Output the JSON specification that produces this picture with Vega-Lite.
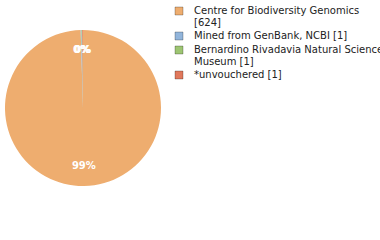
{
  "$schema": "https://vega.github.io/schema/vega-lite/v6.json",
  "autosize": {"type": "none"},
  "width": 166,
  "height": 166,
  "padding": {"left": 0, "top": 25, "right": 214, "bottom": 49},
  "background": "white",
  "config": {"view": {"stroke": null}, "font": "DejaVu Sans"},
  "data": {
    "values": [
      {"category": "Centre for Biodiversity Genomics [624]", "count": 624, "order": 1, "pct": "99%"},
      {"category": "Mined from GenBank, NCBI [1]", "count": 1, "order": 2, "pct": "0%"},
      {"category": "Bernardino Rivadavia Natural Sciences Museum [1]", "count": 1, "order": 3, "pct": "0%"},
      {"category": "*unvouchered [1]", "count": 1, "order": 4, "pct": "0%"}
    ]
  },
  "encoding": {
    "theta": {"field": "count", "type": "quantitative", "stack": true},
    "order": {"field": "order", "type": "quantitative"}
  },
  "layer": [
    {
      "mark": {"type": "arc", "outerRadius": 78},
      "encoding": {
        "color": {
          "field": "category",
          "type": "nominal",
          "sort": ["Centre for Biodiversity Genomics [624]", "Mined from GenBank, NCBI [1]", "Bernardino Rivadavia Natural Sciences Museum [1]", "*unvouchered [1]"],
          "scale": {
            "domain": ["Centre for Biodiversity Genomics [624]", "Mined from GenBank, NCBI [1]", "Bernardino Rivadavia Natural Sciences Museum [1]", "*unvouchered [1]"],
            "range": ["#EEAD6F", "#92B5DB", "#9DC572", "#E0785C"]
          },
          "legend": {
            "title": null,
            "orient": "none",
            "legendX": 174,
            "legendY": -19,
            "symbolType": "square",
            "symbolSize": 64,
            "symbolStrokeWidth": 1,
            "symbolStrokeColor": "rgba(0,0,0,0.25)",
            "labelFont": "DejaVu Sans",
            "labelFontSize": 10,
            "labelColor": "#222",
            "labelLimit": 400,
            "rowPadding": 2,
            "labelOffset": 10,
            "labelExpr": "datum.label == 'Centre for Biodiversity Genomics [624]' ? ['Centre for Biodiversity Genomics', '[624]'] : datum.label == 'Bernardino Rivadavia Natural Sciences Museum [1]' ? ['Bernardino Rivadavia Natural Sciences', 'Museum [1]'] : datum.label"
          }
        }
      }
    },
    {
      "mark": {"type": "text", "radius": 58, "color": "white", "font": "DejaVu Sans", "fontSize": 10, "fontWeight": "bold"},
      "encoding": {"text": {"field": "pct"}}
    }
  ]
}
